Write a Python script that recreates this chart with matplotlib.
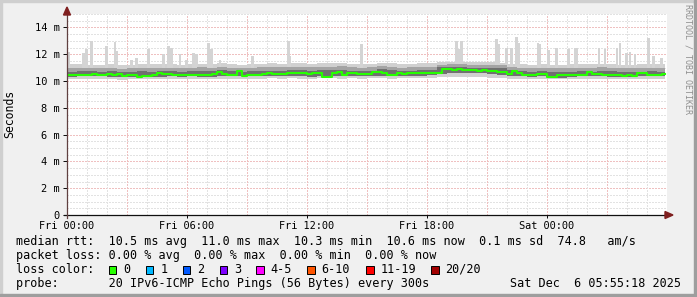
import numpy as np
import matplotlib
matplotlib.use("Agg")
import matplotlib.pyplot as plt
from matplotlib.patches import Rectangle, Polygon
from matplotlib.lines import Line2D

W, H = 697, 297
MONO = "DejaVu Sans Mono"

# ---------------- data ----------------
# median rtt in ms, every 15 minutes from Fri 00:00
median_ms = [
    10.43, 10.45, 10.47, 10.44, 10.47, 10.49, 10.46, 10.48,
    10.50, 10.48, 10.51, 10.34, 10.43, 10.44, 10.33, 10.40,
    10.41, 10.42, 10.60, 10.52, 10.50, 10.44, 10.43, 10.46,
    10.47, 10.46, 10.48, 10.47, 10.46, 10.50, 10.70, 10.55,
    10.43, 10.44, 10.75, 10.38, 10.42, 10.44, 10.43, 10.55,
    10.56, 10.54, 10.50, 10.52, 10.63, 10.61, 10.56, 10.57,
    10.55, 10.62, 10.58, 10.32, 10.30, 10.60, 10.68, 10.48,
    10.62, 10.58, 10.50, 10.52, 10.50, 10.70, 10.66, 10.56,
    10.45, 10.46, 10.56, 10.55, 10.63, 10.62, 10.57, 10.56,
    10.58, 10.56, 10.60, 10.93, 10.88, 10.84, 10.86, 10.82,
    10.85, 10.80, 10.78, 10.80, 10.77, 10.72, 10.70, 10.68,
    10.50, 10.72, 10.60, 10.46, 10.45, 10.48, 10.50, 10.50,
    10.32, 10.30, 10.43, 10.42, 10.45, 10.44, 10.48, 10.46,
    10.70, 10.55, 10.52, 10.44, 10.43, 10.42, 10.44, 10.40,
    10.42, 10.40, 10.56, 10.57, 10.45, 10.46, 10.44, 10.50,
]

# smoke bands (ms), every 30 minutes
smoke_min = [
    10.15, 10.18, 10.12, 10.16, 10.15, 10.10, 10.14, 10.17, 10.12, 10.15,
    10.16, 10.14, 10.18, 10.15, 10.13, 10.12, 10.16, 10.14, 10.18, 10.16,
    10.20, 10.18, 10.22, 10.17, 10.15, 10.20, 10.19, 10.17, 10.21, 10.18,
    10.20, 10.19, 10.18, 10.22, 10.20, 10.21, 10.22, 10.30, 10.32, 10.30,
    10.28, 10.30, 10.26, 10.24, 10.18, 10.15, 10.14, 10.16, 10.12, 10.14,
    10.15, 10.17, 10.16, 10.14, 10.13, 10.15, 10.16, 10.14, 10.15, 10.16,
]
smoke_q1 = [
    10.33, 10.35, 10.34, 10.36, 10.30, 10.28, 10.32, 10.34, 10.31, 10.33,
    10.34, 10.33, 10.35, 10.32, 10.30, 10.34, 10.36, 10.34, 10.37, 10.35,
    10.38, 10.37, 10.40, 10.36, 10.30, 10.38, 10.40, 10.38, 10.39, 10.37,
    10.36, 10.40, 10.35, 10.34, 10.38, 10.40, 10.42, 10.55, 10.62, 10.60,
    10.58, 10.56, 10.52, 10.48, 10.36, 10.34, 10.33, 10.35, 10.26, 10.25,
    10.32, 10.34, 10.36, 10.34, 10.32, 10.31, 10.33, 10.36, 10.34, 10.35,
]
smoke_q3 = [
    10.70, 10.72, 10.74, 10.70, 10.72, 10.66, 10.68, 10.72, 10.70, 10.71,
    10.72, 10.70, 10.72, 10.74, 10.76, 10.80, 10.72, 10.70, 10.72, 10.74,
    10.76, 10.74, 10.82, 10.80, 10.78, 10.80, 10.80, 10.82, 10.78, 10.74,
    10.76, 10.86, 10.80, 10.74, 10.78, 10.80, 10.82, 11.02, 11.04, 11.02,
    11.00, 10.98, 10.96, 10.94, 10.82, 10.76, 10.70, 10.72, 10.68, 10.66,
    10.70, 10.72, 10.70, 10.78, 10.74, 10.70, 10.68, 10.70, 10.74, 10.70,
]
smoke_p90 = [
    10.95, 11.00, 10.98, 10.96, 11.00, 10.92, 10.95, 11.00, 10.97, 10.98,
    11.00, 10.96, 10.98, 11.02, 11.00, 11.05, 10.98, 10.96, 11.00, 11.02,
    11.05, 11.02, 11.08, 11.06, 11.05, 11.08, 11.06, 11.10, 11.04, 11.00,
    11.02, 11.10, 11.06, 11.00, 11.05, 11.06, 11.08, 11.22, 11.25, 11.24,
    11.22, 11.20, 11.18, 11.16, 11.06, 11.00, 10.96, 10.98, 10.95, 10.94,
    10.98, 11.00, 10.97, 11.04, 11.00, 10.96, 10.95, 10.98, 11.00, 10.97,
]
smoke_max = [
    11.25, 11.30, 11.22, 11.20, 11.28, 11.18, 11.22, 11.30, 11.25, 11.24,
    11.28, 11.22, 11.25, 11.30, 11.28, 11.32, 11.26, 11.22, 11.28, 11.30,
    11.32, 11.30, 11.35, 11.32, 11.30, 11.35, 11.32, 11.38, 11.30, 11.26,
    11.30, 11.38, 11.32, 11.28, 11.30, 11.32, 11.35, 11.42, 11.45, 11.44,
    11.42, 11.40, 11.40, 11.38, 11.30, 11.26, 11.22, 11.25, 11.22, 11.20,
    11.25, 11.28, 11.24, 11.30, 11.26, 11.22, 11.22, 11.25, 11.28, 11.24,
]

# isolated slow pings (hour since Fri 00:00, top in ms)
spike_hours = [0.07, 0.82, 0.98, 1.23, 1.98, 2.40, 2.50, 3.23, 3.48, 4.07,
               4.82, 5.07, 5.23, 5.65, 5.98, 6.32, 6.48, 7.07, 7.23, 7.65,
               9.27, 11.07, 11.15, 14.73, 19.48, 19.60, 19.73, 21.48, 21.57,
               21.98, 22.23, 22.48, 22.60, 23.55, 23.65, 24.07, 24.48, 25.07,
               25.40, 25.48, 26.60, 26.90, 27.50, 27.65, 27.98, 28.15, 28.40,
               29.07, 29.32, 29.73]
spike_tops = [12.2, 12.1, 12.4, 13.0, 12.6, 12.9, 12.25, 11.6, 11.75, 12.4,
              12.0, 12.6, 12.5, 12.0, 11.6, 12.1, 12.0, 12.8, 12.4, 11.6,
              11.9, 13.0, 11.9, 12.75, 13.0, 12.4, 13.0, 13.15, 12.75,
              12.5, 12.5, 13.25, 12.85, 12.8, 12.75, 12.3, 12.5, 12.4,
              12.5, 12.5, 12.5, 12.4, 12.5, 12.85, 12.1, 12.2, 12.0,
              13.2, 11.9, 11.75]

y_ticks = [0, 2, 4, 6, 8, 10, 12, 14]
y_tick_labels = ["0", "2 m", "4 m", "6 m", "8 m", "10 m", "12 m", "14 m"]
x_ticks = [0, 6, 12, 18, 24]
x_tick_labels = ["Fri 00:00", "Fri 06:00", "Fri 12:00", "Fri 18:00", "Sat 00:00"]

legend_rtt = "median rtt:  10.5 ms avg  11.0 ms max  10.3 ms min  10.6 ms now  0.1 ms sd  74.8   am/s"
legend_loss = "packet loss: 0.00 % avg  0.00 % max  0.00 % min  0.00 % now"
loss_labels = ["0", "1", "2", "3", "4-5", "6-10", "11-19", "20/20"]
loss_colors = ["#26ff00", "#00b8ff", "#0059ff", "#7e00ff", "#ff00ff", "#ff5500", "#ff0000", "#a10000"]
probe_text = "probe:       20 IPv6-ICMP Echo Pings (56 Bytes) every 300s"
date_text = "Sat Dec  6 05:55:18 2025"
watermark = "RRDTOOL / TOBI OETIKER"
y_label = "Seconds"

END_H = 29.92

# ---------------- figure ----------------
fig = plt.figure(figsize=(W / 100, H / 100), dpi=100)
fig.patch.set_facecolor("#f0f0f0")


def fx(x):
    return x / W


def fy(y):
    return 1 - y / H


# shade borders
fig.patches.append(Rectangle((0, fy(2)), 1, 2 / H, transform=fig.transFigure, color="#cfcfcf", zorder=0))
fig.patches.append(Rectangle((0, 0), 2 / W, 1, transform=fig.transFigure, color="#cfcfcf", zorder=0))
fig.patches.append(Rectangle((fx(694), 0), 3 / W, 1, transform=fig.transFigure, color="#9e9e9e", zorder=1))
fig.patches.append(Rectangle((0, 0), 1, 3 / H, transform=fig.transFigure, color="#9e9e9e", zorder=1))

L, R, T, B = 67, 667, 14, 215
ax = fig.add_axes([fx(L), fy(B), (R - L) / W, (B - T) / H])
ax.set_facecolor("white")
ax.set_xlim(0, 30)
ax.set_ylim(0, 15)

# grid (below the graph)
MINOR_C, MAJOR_C = "#e2e2e2", "#efc0c0"
for v in np.arange(0.5, 15.01, 0.5):
    major = abs(v % 2) < 1e-9
    ax.axhline(v, color=MAJOR_C if major else MINOR_C, lw=0.75, ls=(0, (1, 1)),
               antialiased=False, zorder=1)
for h in range(1, 30):
    major = h % 3 == 0
    ax.axvline(h, color=MAJOR_C if major else MINOR_C, lw=0.75, ls=(0, (1, 1)),
               antialiased=False, zorder=1)

# smoke
t15 = np.arange(len(median_ms)) * 0.25
t30 = np.arange(len(smoke_min)) * 0.5
t30e = np.append(t30, END_H)


def ext(a):
    return np.append(a, a[-1])


ax.fill_between(t30e, ext(smoke_min), ext(smoke_max), step="post", color="#d0d0d0", lw=0, zorder=2)
ax.bar(spike_hours, np.array(spike_tops) - 11.0, bottom=11.0, width=0.14, color="#d4d4d4", lw=0,
       zorder=2, align="center")
ax.fill_between(t30e, ext(smoke_q1), ext(smoke_p90), step="post", color="#a4a4a4", lw=0, zorder=3)
ax.fill_between(t30e, ext(smoke_q1), ext(smoke_q3), step="post", color="#707070", lw=0, zorder=3)

t15e = np.append(t15, END_H)
med = ext(median_ms)
ax.step(t15e, med, where="post", color="#26ff00", lw=1.5, zorder=5)

for s in ax.spines.values():
    s.set_visible(False)

ax.set_yticks(y_ticks)
ax.set_yticklabels(y_tick_labels, family=MONO, fontsize=7.5)
ax.set_xticks(x_ticks)
ax.set_xticklabels(x_tick_labels, family=MONO, fontsize=7.4)
ax.tick_params(axis="y", length=3, width=0.72, pad=2.2, color="#101010", labelcolor="#000000")
ax.tick_params(axis="x", length=2.5, width=0.72, pad=2.0, color="#101010", labelcolor="#000000")

# axes with arrows
fig.lines.append(Line2D([fx(64), fx(669)], [fy(B), fy(B)], transform=fig.transFigure, color="#101010", lw=0.9, zorder=10))
fig.lines.append(Line2D([fx(L), fx(L)], [fy(B + 3), fy(11)], transform=fig.transFigure, color="#604040", lw=0.9, zorder=10))
fig.patches.append(Polygon([(fx(665), fy(211.5)), (fx(665), fy(218.5)), (fx(673), fy(B))],
                           closed=True, transform=fig.transFigure, color="#7f1f1f", zorder=11))
fig.patches.append(Polygon([(fx(63.5), fy(15)), (fx(70.5), fy(15)), (fx(L), fy(7))],
                           closed=True, transform=fig.transFigure, color="#7f1f1f", zorder=11))

# y label & watermark
fig.text(fx(10), fy(114), y_label, rotation=90, ha="center", va="center", family=MONO, fontsize=8.3)
fig.text(fx(688), fy(4), watermark, rotation=270, ha="center", va="top", family=MONO, fontsize=6.0,
         color="#8f8f8f")

# legend
LX = 16
fs = 8.5
fig.text(fx(LX), fy(245), legend_rtt, family=MONO, fontsize=fs, va="baseline", ha="left")
fig.text(fx(LX), fy(259), legend_loss, family=MONO, fontsize=fs, va="baseline", ha="left")
fig.text(fx(LX), fy(273), "loss color:", family=MONO, fontsize=fs, va="baseline", ha="left")
box_x = [108.7, 145.7, 182.7, 219.5, 256.2, 307.2, 366.0, 431.0]
for bx, lab, col in zip(box_x, loss_labels, loss_colors):
    fig.patches.append(Rectangle((fx(bx), fy(273.5)), 7.5 / W, 8 / H, transform=fig.transFigure,
                                 facecolor=col, edgecolor="black", lw=0.7, zorder=5))
    fig.text(fx(bx + 14.5), fy(273), lab, family=MONO, fontsize=fs, va="baseline", ha="left")
fig.text(fx(LX), fy(287), probe_text, family=MONO, fontsize=fs, va="baseline", ha="left")
fig.text(fx(680.5), fy(287), date_text, family=MONO, fontsize=fs, va="baseline", ha="right")

fig.savefig("out.png", dpi=100, facecolor=fig.get_facecolor())
